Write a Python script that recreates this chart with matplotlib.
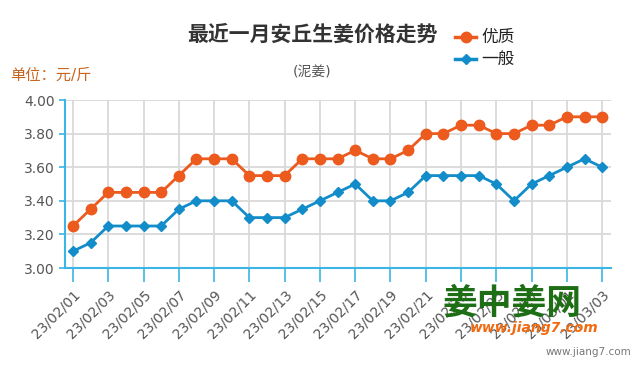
import matplotlib
matplotlib.use("Agg")
import matplotlib.pyplot as plt

plt.rcParams['font.family'] = ['DejaVu Sans', 'Noto Sans CJK SC']

# Daily dates 2023-02-01 .. 2023-03-03
dates = ['23/02/%02d' % d for d in range(1, 29)] + ['23/03/01', '23/03/02', '23/03/03']

# 优质 (high quality) price, yuan/jin
premium = [3.25, 3.35, 3.45, 3.45, 3.45, 3.45, 3.55, 3.65, 3.65, 3.65,
           3.55, 3.55, 3.55, 3.65, 3.65, 3.65, 3.70, 3.65, 3.65, 3.70,
           3.80, 3.80, 3.85, 3.85, 3.80, 3.80, 3.85, 3.85, 3.90, 3.90, 3.90]

# 一般 (ordinary) price
ordinary = [3.10, 3.15, 3.25, 3.25, 3.25, 3.25, 3.35, 3.40, 3.40, 3.40,
            3.30, 3.30, 3.30, 3.35, 3.40, 3.45, 3.50, 3.40, 3.40, 3.45,
            3.55, 3.55, 3.55, 3.55, 3.50, 3.40, 3.50, 3.55, 3.60, 3.65, 3.60]

yticks = [3.00, 3.20, 3.40, 3.60, 3.80, 4.00]

orange = '#ec5a1e'
blue = '#138dc9'
axis_blue = '#3bb5e6'

fig = plt.figure(figsize=(6.35, 3.75), dpi=100)
ax = fig.add_axes([65 / 635, 1 - 268 / 375, (611 - 65) / 635, 168 / 375])

x = list(range(len(dates)))
ax.plot(x, premium, color=orange, lw=2, marker='o', markersize=7.5, zorder=3)
ax.plot(x, ordinary, color=blue, lw=2, marker='D', markersize=5.5, zorder=3)

ax.set_xlim(-0.45, 30.5)
ax.set_ylim(3.0, 4.0)
ax.set_yticks(yticks)
ax.set_yticklabels(['%.2f' % v for v in yticks], fontsize=10, color='#555555')
ax.set_xticks(x[::2])
ax.set_xticklabels(dates[::2], rotation=45, ha='right', va='top',
                   rotation_mode='anchor', fontsize=10, color='#555555')

ax.grid(True, color='#d9d9d9', lw=1.3)
ax.set_axisbelow(True)
for s in ['top', 'right']:
    ax.spines[s].set_visible(False)
for s in ['left', 'bottom']:
    ax.spines[s].set_color(axis_blue)
    ax.spines[s].set_linewidth(1.5)
ax.tick_params(axis='y', colors=axis_blue, length=4, width=1.2, labelcolor='#555555')
ax.tick_params(axis='x', colors=axis_blue, length=10, width=1.2, labelcolor='#555555', pad=4)

# titles
fig.text(312 / 635, 1 - 35 / 375, '最近一月安丘生姜价格走势', ha='center', va='center',
         fontsize=15, fontweight='bold', color='#333333')
fig.text(312 / 635, 1 - 72 / 375, '(泥姜)', ha='center', va='center',
         fontsize=10, color='#555555')
fig.text(10 / 635, 1 - 75 / 375, '单位：元/斤', ha='left', va='center',
         fontsize=11, color='#c8641e')

# legend drawn by hand
for yy, col, mk, ms, lab in [(37, orange, 'o', 7.5, '优质'), (59, blue, 'D', 5.5, '一般')]:
    fy = 1 - yy / 375
    fig.add_artist(plt.Line2D([455 / 635, 476 / 635], [fy, fy], color=col, lw=2.5,
                              transform=fig.transFigure))
    fig.add_artist(plt.Line2D([465.5 / 635], [fy], color=col, marker=mk, markersize=ms,
                              transform=fig.transFigure))
    fig.text(481 / 635, fy, lab, ha='left', va='center', fontsize=12, color='#222222')

# watermark logo
fig.text(512 / 635, 1 - 304 / 375, '姜中姜网', ha='center', va='center',
         fontsize=25, fontweight='bold', color='#1d6e14')
fig.text(534 / 635, 1 - 328 / 375, 'www.jiang7.com', ha='center', va='center',
         fontsize=10, fontweight='bold', style='italic', color='#f26a10')
fig.text(631 / 635, 1 - 352 / 375, 'www.jiang7.com', ha='right', va='center',
         fontsize=7.5, color='#777777')

fig.savefig('out.png', dpi=100)
